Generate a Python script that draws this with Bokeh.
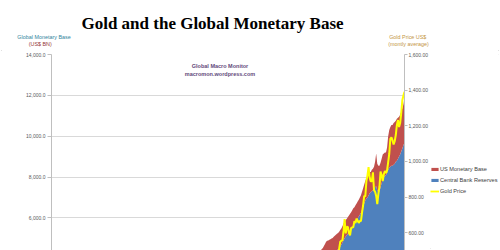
import pandas as pd
from bokeh.plotting import figure
from bokeh.layouts import column, row
from bokeh.models import (Range1d, LinearAxis, NumeralTickFormatter, FixedTicker,
                          Label, Legend, LegendItem)
from bokeh.embed import file_html
from bokeh.resources import INLINE

# ---------------- data (monthly, Jan 2004 - Dec 2010) ----------------
start_month = "2004-01"
n_months = 84

# Central bank reserves, US$ bn
reserves = [
    3500, 3520, 3550, 3560, 3580, 3620, 3650, 3700, 3760, 3850, 3950, 4050,
    4100, 4120, 4150, 4170, 4200, 4230, 4280, 4330, 4380, 4420, 4460, 4520,
    4600, 4680, 4780, 4900, 5000, 5080, 5150, 5220, 5300, 5380, 5450, 5550,
    5650, 5700, 5800, 5880, 5980, 6060, 6150, 6250, 6400, 6550, 6700, 6850,
    6950, 7000, 7100, 7200, 7250, 7300, 7350, 7400, 7500, 7550, 7350, 7250,
    7300, 7500, 7700, 7900, 8000, 8050, 8100, 8200, 8350, 8450, 8500, 8550,
    8550, 8600, 8650, 8750, 8800, 8900, 9000, 9100, 9250, 9400, 9550, 9700,
]
# US monetary base, US$ bn
us_base = [
    740, 745, 750, 750, 755, 760, 760, 765, 765, 770, 770, 775,
    775, 775, 780, 780, 785, 785, 790, 790, 790, 795, 795, 800,
    800, 800, 805, 805, 810, 810, 810, 815, 815, 815, 820, 820,
    820, 820, 820, 825, 825, 830, 840, 860, 880, 900, 930, 960,
    1000, 1000, 1050, 1050, 1000, 1050, 1050, 1100, 1250, 1600, 1300, 1300,
    1250, 1200, 1200, 1200, 1150, 1150, 1100, 1250, 1650, 1850, 1950, 2000,
    2000, 2050, 2050, 2000, 2050, 2000, 1950, 1950, 1950, 1950, 2000, 2200,
]
# Gold price, US$ (monthly average)
gold = [
    415, 405, 405, 405, 385, 392, 398, 400, 405, 420, 439, 442,
    424, 423, 434, 429, 422, 430, 424, 437, 456, 470, 476, 510,
    549, 555, 557, 610, 676, 596, 633, 632, 598, 585, 627, 629,
    631, 665, 655, 679, 667, 655, 665, 665, 713, 754, 806, 803,
    889, 922, 968, 909, 888, 889, 939, 839, 830, 806, 760, 816,
    858, 943, 924, 890, 928, 946, 934, 949, 996, 1043, 1127, 1135,
    1118, 1095, 1113, 1148, 1205, 1232, 1193, 1215, 1271, 1343, 1370, 1391,
]
series_names = ["US Monetary Base", "Central Bank Reserves", "Gold Price"]

left_ticks = [6000, 8000, 10000, 12000, 14000]
right_ticks = [600, 800, 1000, 1200, 1400, 1600]

dates = pd.date_range(start_month, periods=n_months, freq="MS")
t = [d.year + (d.month - 1) / 12 for d in dates]
total = [r + b for r, b in zip(reserves, us_base)]

blue = "#4F81BD"
red = "#C0504D"
yel = "#FFFF00"

W = 500
HEAD_H = 50
MAIN_H = 200
LEFT, TOP = 51, 4
FRAME_W = 357
MAIN_W = 430
LEG_W = W - MAIN_W


def bare(fig):
    fig.outline_line_color = None
    fig.xgrid.visible = False
    fig.ygrid.visible = False
    return fig


# ---------------- header ----------------
head = bare(figure(width=W, height=HEAD_H, output_backend="svg", toolbar_location=None,
                   x_axis_location=None, y_axis_location=None,
                   x_range=Range1d(0, 1), y_range=Range1d(0, 1),
                   min_border_left=0, min_border_right=0,
                   min_border_top=0, min_border_bottom=0))


def hlab(text, xc, yc, size, color, font="Liberation Sans", style="normal",
         baseline="middle"):
    head.add_layout(Label(x=xc, y=HEAD_H - yc, x_units="screen", y_units="screen",
                          text=text, text_font=font, text_font_size=size,
                          text_font_style=style, text_color=color,
                          text_align="center", text_baseline=baseline))


hlab("Gold and the Global Monetary Base", 212, 23, "17px", "#000000",
     font="Liberation Serif", style="bold", baseline="alphabetic")
hlab("Global Monetary Base", 43.5, 36.5, "5.4px", "#31859C")
hlab("(US$  BN)", 40.5, 43.3, "5.4px", "#953735")
hlab("Gold Price  US$", 408, 36.5, "5.4px", "#C39544")
hlab("(montly average)", 408, 43.3, "5.4px", "#C39544")

# ---------------- main chart ----------------
p = figure(width=MAIN_W, height=MAIN_H, output_backend="svg", toolbar_location=None,
           x_axis_location=None, y_axis_location="left",
           x_range=Range1d(1983.9, t[-1]), y_range=Range1d(4400, 14000),
           min_border_left=LEFT, min_border_right=MAIN_W - LEFT - FRAME_W,
           min_border_top=TOP, min_border_bottom=0)
p.extra_y_ranges = {"gold": Range1d(500, 1600)}
p.outline_line_color = None
p.xgrid.visible = False

p.varea(x=t, y1=[0] * n_months, y2=reserves, fill_color=blue)
p.varea(x=t, y1=reserves, y2=total, fill_color=red)
p.line(x=t, y=gold, y_range_name="gold", line_color=yel, line_width=2)

ya = p.yaxis[0]
ya.ticker = FixedTicker(ticks=left_ticks)
ya.formatter = NumeralTickFormatter(format="0,0.0")
ya.axis_line_color = "#BFBFBF"
ya.major_tick_line_color = "#BFBFBF"
ya.major_tick_out = 4
ya.major_tick_in = 0
ya.minor_tick_line_color = None
ya.major_label_text_font = "Liberation Sans"
ya.major_label_text_font_size = "5px"
ya.major_label_text_color = "#595959"
ya.major_label_standoff = 2
p.ygrid.ticker = FixedTicker(ticks=left_ticks)
p.ygrid.grid_line_color = "#D9D9D9"

ra = LinearAxis(y_range_name="gold", ticker=FixedTicker(ticks=right_ticks),
                formatter=NumeralTickFormatter(format="0,0.00"))
ra.axis_line_color = "#BFBFBF"
ra.major_tick_line_color = "#BFBFBF"
ra.major_tick_out = 3
ra.major_tick_in = 0
ra.minor_tick_line_color = None
ra.major_label_text_font = "Liberation Sans"
ra.major_label_text_font_size = "5px"
ra.major_label_text_color = "#595959"
ra.major_label_standoff = 1
p.add_layout(ra, "right")

for txt, yc in [("Global Macro Monitor", 65), ("macromon.wordpress.com", 73.3)]:
    p.add_layout(Label(x=219.5 - LEFT, y=HEAD_H + MAIN_H - yc, x_units="screen",
                       y_units="screen", text=txt, text_font="Liberation Sans",
                       text_font_size="5.5px", text_font_style="bold",
                       text_color="#5F497A", text_align="center",
                       text_baseline="middle"))

# ---------------- legend strip (same series, kept out of its view) ----------------
lg = bare(figure(width=LEG_W, height=MAIN_H, output_backend="svg", toolbar_location=None,
                 x_axis_location=None, y_axis_location=None,
                 x_range=Range1d(0, 1), y_range=Range1d(0, 1),
                 min_border_left=0, min_border_right=0,
                 min_border_top=0, min_border_bottom=0))
k_red = lg.varea(x=t, y1=reserves, y2=total, fill_color=red)
k_blue = lg.varea(x=t, y1=[0] * n_months, y2=reserves, fill_color=blue)
k_gold = lg.line(x=t, y=gold, line_color=yel, line_width=1.8)

legend = Legend(items=[LegendItem(label=series_names[0], renderers=[k_red]),
                       LegendItem(label=series_names[1], renderers=[k_blue]),
                       LegendItem(label=series_names[2], renderers=[k_gold])],
                location=(0, HEAD_H + MAIN_H - 195))
legend.glyph_width = 9
legend.glyph_height = 4
legend.label_height = 8
legend.spacing = 3
legend.padding = 0
legend.margin = 0
legend.label_standoff = 1
legend.label_text_font = "Liberation Sans"
legend.label_text_font_size = "5.6px"
legend.label_text_color = "#404040"
legend.border_line_color = None
legend.background_fill_alpha = 0
lg.add_layout(legend, "center")

layout = column(head, row(p, lg, spacing=0), spacing=0)
layout.styles = {"outline": "1px solid #D6D6D6", "outline-offset": "-2px"}
open("out.html", "w").write(file_html(layout, INLINE))
